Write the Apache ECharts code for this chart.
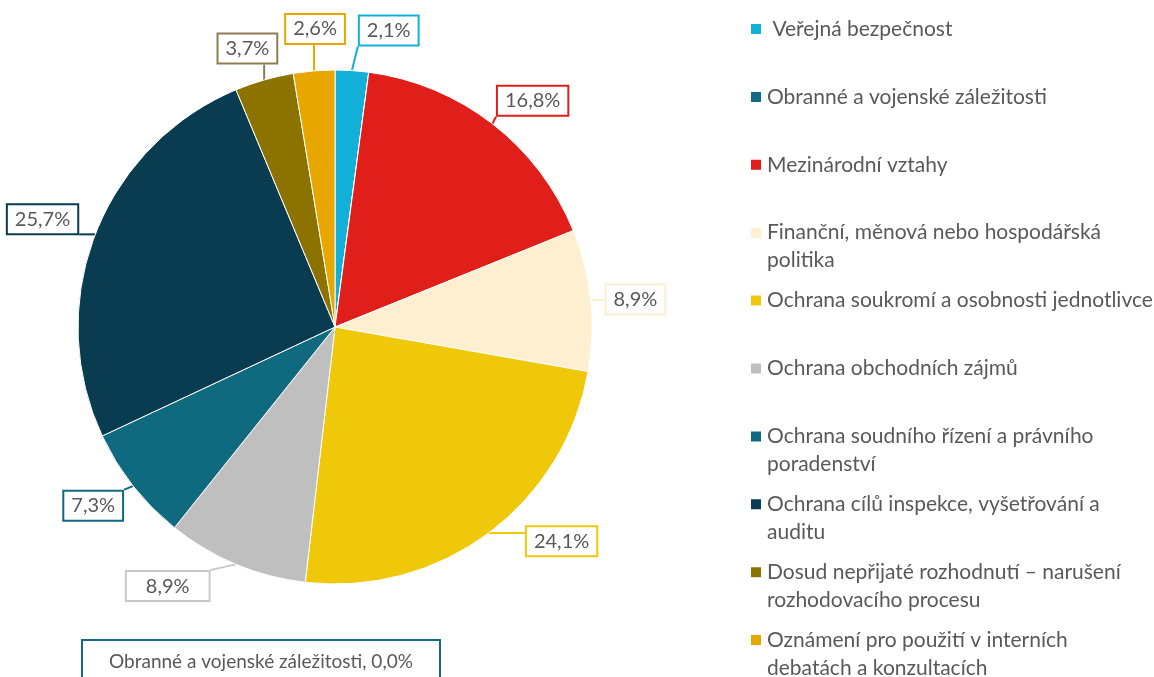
<!DOCTYPE html>
<html>
<head>
<meta charset="utf-8">
<script src="https://cdn.jsdelivr.net/npm/echarts@6/dist/echarts.min.js"></script>
<style>
  html, body { margin: 0; background: #fff; }
  #main { width: 1154px; height: 677px; }
</style>
</head>
<body>
<div id="main"></div>
<script>
let categories = [
  "Veřejná bezpečnost",
  "Obranné a vojenské záležitosti",
  "Mezinárodní vztahy",
  "Finanční, měnová nebo hospodářská politika",
  "Ochrana soukromí a osobnosti jednotlivce",
  "Ochrana obchodních zájmů",
  "Ochrana soudního řízení a právního poradenství",
  "Ochrana cílů inspekce, vyšetřování a auditu",
  "Dosud nepřijaté rozhodnutí – narušení rozhodovacího procesu",
  "Oznámení pro použití v interních debatách a konzultacích"
];
let legendLabels = [
  " Veřejná bezpečnost",
  "Obranné a vojenské záležitosti",
  "Mezinárodní vztahy",
  "Finanční, měnová nebo hospodářská\npolitika",
  "Ochrana soukromí a osobnosti jednotlivce",
  "Ochrana obchodních zájmů",
  "Ochrana soudního řízení a právního\nporadenství",
  "Ochrana cílů inspekce, vyšetřování a\nauditu",
  "Dosud nepřijaté rozhodnutí – narušení\nrozhodovacího procesu",
  "Oznámení pro použití v interních\ndebatách a konzultacích"
];
let shares = [2.1, 0.0, 16.8, 8.9, 24.1, 8.9, 7.3, 25.7, 3.7, 2.6];
let colors = [
  "#12b0d8", "#13698a", "#e01e1a", "#fdefd0", "#f0c80a",
  "#bfbfbf", "#0f6a80", "#093c50", "#8c7300", "#e8a600"
];
let borderColors = [
  "#12b0d8", "#13698a", "#e01e1a", "#fdefd0", "#f0c80a",
  "#c9c9c9", "#0f6a80", "#093c50", "#8e7c55", "#e8a600"
];
// nudges of the callout boxes away from the default outside position
let labelOffsets = [
  [-6, -26], [0, 0], [-16, -12], [-11, 1], [17, -3],
  [-9, 9], [13, 11], [8, -10], [29, -18], [44, -28]
];
let labelPadX = [7, 7, 7, 7, 7, 19, 7, 7, 7, 7];

let myChart = echarts.init(document.getElementById("main"));

function fmt(v) {
  return v.toFixed(1).replace(".", ",") + "%";
}

let zeroIndex = shares.indexOf(0);
let lineH = 28;
let pitch = 67.9;

let legends = categories.map((name, i) => {
  let twoLine = legendLabels[i].indexOf("\n") >= 0;
  return {
    orient: "vertical",
    left: 749,
    top: 29 + pitch * i - lineH / 2 - (twoLine ? lineH : 0),
    padding: 0,
    itemWidth: 12,
    itemHeight: 12,
    icon: "rect",
    selectedMode: false,
    data: [name],
    // an empty first line keeps the marker level with the first text line
    formatter: () => (twoLine ? "\n" : "") + legendLabels[i],
    textStyle: {
      fontFamily: "Lato",
      fontSize: 21,
      color: "#595959",
      lineHeight: lineH,
    },
  };
});

let pieData = [];
for (let i = 0; i < categories.length; i++) {
  let hasLabel = shares[i] > 0;
  pieData.push({
    name: categories[i],
    value: shares[i],
    itemStyle: { color: colors[i] },
    label: hasLabel
      ? { borderColor: borderColors[i], padding: [5, labelPadX[i], 3, labelPadX[i]] }
      : { show: false },
    labelLine: hasLabel
      ? { lineStyle: { color: borderColors[i] } }
      : { show: false },
  });
}

let option = {
  animation: false,
  backgroundColor: "#fff",
  title: {
    text: `${categories[zeroIndex]}, ${fmt(shares[zeroIndex])}`,
    left: 82,
    top: 640,
    padding: [12, 27],
    borderColor: colors[zeroIndex],
    borderWidth: 2,
    textStyle: {
      fontFamily: "Lato",
      fontSize: 19,
      fontWeight: "normal",
      color: "#595959",
    },
  },
  legend: legends,
  series: [
    {
      type: "pie",
      center: [335, 327],
      radius: 257,
      startAngle: 90,
      clockwise: true,
      avoidLabelOverlap: false,
      itemStyle: { borderColor: "#fff", borderWidth: 1 },
      label: {
        show: true,
        position: "outside",
        formatter: (p) => fmt(p.value),
        fontFamily: "Lato",
        fontSize: 20,
        color: "#595959",
        backgroundColor: "#fff",
        borderWidth: 2,
      },
      labelLine: {
        show: true,
        length: 14,
        length2: 8,
        lineStyle: { width: 2 },
      },
      labelLayout: (p) => {
        let off = labelOffsets[p.dataIndex];
        let r = p.labelRect;
        let x0 = r.x + off[0];
        let y0 = r.y + off[1];
        let x1 = x0 + r.width;
        let y1 = y0 + r.height;
        let res = { hideOverlap: false, dx: off[0], dy: off[1] };
        if (p.labelLinePoints) {
          // leader from the slice edge to the nearest point of the moved box
          let s = p.labelLinePoints[0];
          let ex = Math.min(Math.max(s[0], x0), x1);
          let ey = Math.min(Math.max(s[1], y0), y1);
          res.labelLinePoints = [
            [s[0], s[1]],
            [(s[0] + ex) / 2, (s[1] + ey) / 2],
            [ex, ey],
          ];
        }
        return res;
      },
      data: pieData,
    },
  ],
};

myChart.setOption(option);
</script>
</body>
</html>
